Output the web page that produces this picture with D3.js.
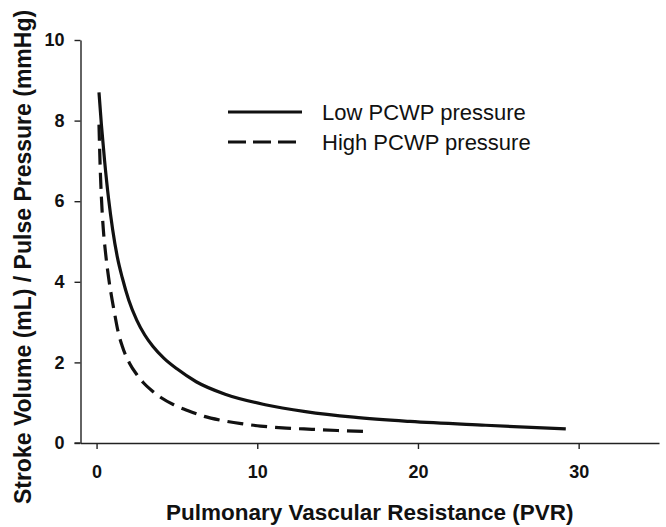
<!DOCTYPE html>
<html>
<head>
<meta charset="utf-8">
<script src="https://d3js.org/d3.v7.min.js"></script>
<style>
  body { margin: 0; background: #fff; }
  svg text { font-family: "Liberation Sans", Arial, sans-serif; fill: #111; }
</style>
</head>
<body>
<div id="chart"></div>
<script>

// values
var pvrLow  = [0.15, 0.3, 0.5, 0.75, 1.0, 1.3, 1.6, 2.0, 2.5, 3.0, 3.5, 4.2, 5.0, 6.2, 8.0, 10.5, 13.0, 16.0, 19.5, 24.2, 29.2];
var svLow   = [8.7, 7.9, 7.0, 6.05, 5.3, 4.6, 4.1, 3.55, 3.05, 2.68, 2.4, 2.1, 1.84, 1.52, 1.21, 0.95, 0.78, 0.64, 0.535, 0.44, 0.35];
var pvrHigh = [0.15, 0.22, 0.3, 0.42, 0.55, 0.75, 0.97, 1.15, 1.33, 1.6, 2.05, 2.5, 2.9, 3.5, 4.0, 4.8, 5.7, 6.7, 7.8, 9.0, 10.2, 11.8, 13.4, 15.0, 16.6];
var svHigh  = [7.9, 6.9, 6.1, 5.3, 4.75, 4.1, 3.55, 3.15, 2.78, 2.4, 1.98, 1.7, 1.5, 1.28, 1.13, 0.95, 0.8, 0.66, 0.56, 0.48, 0.42, 0.37, 0.34, 0.31, 0.29];

var seriesNames = ["Low PCWP pressure", "High PCWP pressure"];
var xTicks = [0, 10, 20, 30];
var yTicks = [0, 2, 4, 6, 8, 10];

var W = 666, H = 527;
var margin = {top: 40, right: 7, bottom: 84, left: 80.5};
var width = W - margin.left - margin.right,
    height = H - margin.top - margin.bottom;

var svg = d3.select("#chart")
  .append("svg")
    .attr("width", W)
    .attr("height", H)
  .append("g")
    .attr("transform", "translate(" + margin.left + "," + margin.top + ")");

var x = d3.scaleLinear().domain([-1, 35]).range([0, width]);
var y = d3.scaleLinear().domain([0, 10]).range([height, 0]);

// X axis
var gx = svg.append("g")
  .attr("transform", "translate(0," + height + ")")
  .call(d3.axisBottom(x).tickValues(xTicks).tickSize(6).tickSizeOuter(0).tickPadding(16));

// Y axis
var gy = svg.append("g")
  .call(d3.axisLeft(y).tickValues(yTicks).tickSize(6).tickSizeOuter(0).tickPadding(10));

[gx, gy].forEach(function(g) {
  g.select(".domain").attr("stroke", "#222").attr("stroke-width", 1.4);
  g.selectAll(".tick line").attr("stroke", "#222").attr("stroke-width", 1.4);
  g.selectAll("text")
    .style("font-family", "'Liberation Sans', Arial, sans-serif")
    .style("font-size", "18px")
    .style("font-weight", "bold")
    .attr("fill", "#111");
});

// x axis line runs a little left of the y axis (where the 0 tick sits)
gx.append("line")
  .attr("x1", -6).attr("x2", 0)
  .attr("stroke", "#222").attr("stroke-width", 1.4);

// axis titles
svg.append("text")
  .attr("x", width / 2)
  .attr("y", height + 77)
  .style("text-anchor", "middle")
  .style("font-size", "22.5px")
  .style("font-weight", "bold")
  .text("Pulmonary Vascular Resistance (PVR)");

svg.append("text")
  .attr("transform", "rotate(-90)")
  .attr("x", -(257 - margin.top))
  .attr("y", 31 - margin.left)
  .style("text-anchor", "middle")
  .style("font-size", "23px")
  .style("font-weight", "bold")
  .text("Stroke Volume (mL) / Pulse Pressure (mmHg)");

// curves
var line = d3.line()
  .x(function(d) { return x(d[0]); })
  .y(function(d) { return y(d[1]); })
  .curve(d3.curveMonotoneX);

var lowData = d3.zip(pvrLow, svLow);
var highData = d3.zip(pvrHigh, svHigh);

svg.append("path")
  .datum(lowData)
  .attr("fill", "none")
  .attr("stroke", "#111")
  .attr("stroke-width", 3.2)
  .attr("d", line);

svg.append("path")
  .datum(highData)
  .attr("fill", "none")
  .attr("stroke", "#111")
  .attr("stroke-width", 3.2)
  .attr("stroke-dasharray", "16,8")
  .attr("d", line);

// legend
var legend = svg.append("g")
  .attr("transform", "translate(" + (228 - margin.left) + "," + (112 - margin.top) + ")");

seriesNames.forEach(function(name, i) {
  legend.append("line")
    .attr("x1", 0).attr("x2", 74)
    .attr("y1", i * 30).attr("y2", i * 30)
    .attr("stroke", "#111")
    .attr("stroke-width", 3.2)
    .attr("stroke-dasharray", i == 1 ? "18,7" : null);
  legend.append("text")
    .attr("x", 94)
    .attr("y", i * 30 + 7.5)
    .style("font-size", "22px")
    .text(name);
});

</script>
</body>
</html>
